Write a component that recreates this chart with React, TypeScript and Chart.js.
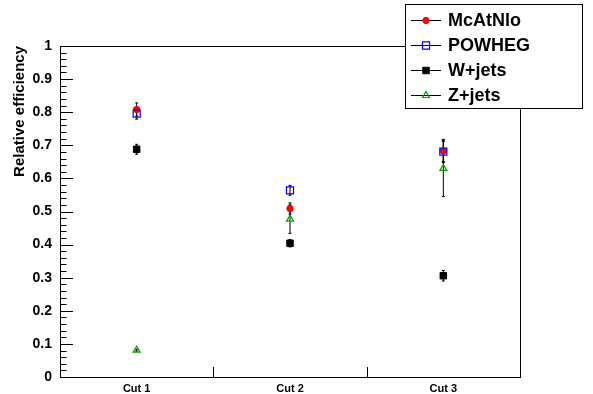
import React, { useEffect, useRef } from 'react';
import { Chart, registerables } from 'chart.js';

Chart.register(...registerables);

// ---- data ----
const categories = ['Cut 1', 'Cut 2', 'Cut 3'];
const seriesNames = ['McAtNlo', 'POWHEG', 'W+jets', 'Z+jets'];
const mcatnlo = [0.808, 0.509, 0.683];
const mcatnloErr = [0.02, 0.017, 0.035];
const powheg = [0.796, 0.564, 0.681];
const powhegErr = [0.017, 0.015, 0.03];
const wjets = [0.688, 0.404, 0.306];
const wjetsErr = [0.015, 0.011, 0.016];
const zjets = [0.081, 0.477, 0.63];
const zjetsErr = [0.003, 0.043, 0.085];
const yTicks = [0, 0.1, 0.2, 0.3, 0.4, 0.5, 0.6, 0.7, 0.8, 0.9, 1];
const yAxisTitle = 'Relative efficiency';

const FONT = "'Liberation Sans', Arial, Helvetica, sans-serif";
const RED = '#ff0000';
const BLUE = '#0000ff';
const BLACK = '#000000';
const GREEN = '#00a000';

const valueSets = [mcatnlo, powheg, wjets, zjets];
const errorSets = [mcatnloErr, powhegErr, wjetsErr, zjetsErr];

type MarkerSpec = { style: string; radius: number; fill: string; stroke: string; width: number };
const markers: MarkerSpec[] = [
  { style: 'circle', radius: 3.2, fill: RED, stroke: RED, width: 1 },
  { style: 'rect', radius: 5, fill: 'rgba(0,0,0,0)', stroke: BLUE, width: 1.2 },
  { style: 'rect', radius: 4.6, fill: BLACK, stroke: BLACK, width: 1 },
  { style: 'triangle', radius: 4, fill: 'rgba(0,0,0,0)', stroke: GREEN, width: 1.2 },
];

function drawMarker(ctx: CanvasRenderingContext2D, m: MarkerSpec, x: number, y: number) {
  ctx.save();
  ctx.beginPath();
  if (m.style === 'circle') {
    ctx.arc(x, y, m.radius, 0, Math.PI * 2);
  } else if (m.style === 'rect') {
    const s = Math.SQRT1_2 * m.radius;
    ctx.rect(x - s, y - s, 2 * s, 2 * s);
  } else {
    const r = m.radius;
    ctx.moveTo(x, y - r);
    ctx.lineTo(x + r * Math.cos(Math.PI / 6), y + r * 0.5);
    ctx.lineTo(x - r * Math.cos(Math.PI / 6), y + r * 0.5);
    ctx.closePath();
  }
  ctx.fillStyle = m.fill;
  ctx.fill();
  ctx.strokeStyle = m.stroke;
  ctx.lineWidth = m.width;
  ctx.stroke();
  ctx.restore();
}

const rootPlugin = {
  id: 'rootStyle',
  beforeDatasetsDraw(chart: any) {
    const ctx: CanvasRenderingContext2D = chart.ctx;
    const xs = chart.scales.x;
    const ys = chart.scales.y;
    ctx.save();
    ctx.strokeStyle = '#000';
    ctx.lineWidth = 1;
    errorSets.forEach((errs, di) => {
      const vals = valueSets[di];
      vals.forEach((v, i) => {
        const px = xs.getPixelForValue(i);
        const y1 = ys.getPixelForValue(v - errs[i]);
        const y2 = ys.getPixelForValue(v + errs[i]);
        ctx.beginPath();
        ctx.moveTo(px, y1);
        ctx.lineTo(px, y2);
        ctx.moveTo(px - 1.5, y1);
        ctx.lineTo(px + 1.5, y1);
        ctx.moveTo(px - 1.5, y2);
        ctx.lineTo(px + 1.5, y2);
        ctx.stroke();
      });
    });
    ctx.restore();
  },
  afterDraw(chart: any) {
    const ctx: CanvasRenderingContext2D = chart.ctx;
    const a = chart.chartArea;
    const xs = chart.scales.x;
    const ys = chart.scales.y;
    ctx.save();
    ctx.strokeStyle = '#000';
    ctx.lineWidth = 1;
    // frame
    ctx.strokeRect(Math.round(a.left) + 0.5, Math.round(a.top) + 0.5, Math.round(a.right - a.left), Math.round(a.bottom - a.top));
    // y ticks (major + minor), pointing inward
    ctx.beginPath();
    for (let k = 0; k < yTicks.length; k++) {
      const py = Math.round(ys.getPixelForValue(yTicks[k])) + 0.5;
      ctx.moveTo(a.left, py);
      ctx.lineTo(a.left + 13, py);
      if (k < yTicks.length - 1) {
        for (let j = 1; j < 5; j++) {
          const v = yTicks[k] + ((yTicks[k + 1] - yTicks[k]) * j) / 5;
          const pm = Math.round(ys.getPixelForValue(v)) + 0.5;
          ctx.moveTo(a.left, pm);
          ctx.lineTo(a.left + 6.5, pm);
        }
      }
    }
    // x ticks at bin boundaries
    for (let i = 0; i < categories.length - 1; i++) {
      const pb = Math.round((xs.getPixelForValue(i) + xs.getPixelForValue(i + 1)) / 2) + 0.5;
      ctx.moveTo(pb, a.bottom);
      ctx.lineTo(pb, a.bottom - 10);
    }
    ctx.stroke();

    // legend
    const lx = 405, ly = 4, lw = 177, lh = 104;
    ctx.fillStyle = '#fff';
    ctx.fillRect(lx, ly, lw, lh);
    ctx.strokeRect(lx + 0.5, ly + 0.5, lw, lh);
    ctx.font = `bold 18px ${FONT}`;
    ctx.textBaseline = 'middle';
    ctx.textAlign = 'left';
    seriesNames.forEach((name, i) => {
      const cy = 20 + i * 25;
      ctx.strokeStyle = '#000';
      ctx.lineWidth = 1;
      ctx.beginPath();
      ctx.moveTo(411, cy + 0.5);
      ctx.lineTo(441, cy + 0.5);
      ctx.stroke();
      drawMarker(ctx, markers[i], 426, cy + 0.5);
      ctx.fillStyle = '#000';
      ctx.fillText(name, 448, cy + 1);
    });
    ctx.restore();
  },
};

export default function App() {
  const canvasRef = useRef<HTMLCanvasElement | null>(null);

  useEffect(() => {
    document.body.style.margin = '0';
    const canvas = canvasRef.current;
    if (!canvas) return;
    const datasets = seriesNames.map((name, i) => ({
      label: name,
      data: valueSets[i],
      showLine: false,
      pointStyle: markers[i].style,
      pointRadius: markers[i].radius,
      pointBackgroundColor: markers[i].fill,
      pointBorderColor: markers[i].stroke,
      pointBorderWidth: markers[i].width,
      backgroundColor: markers[i].fill,
      borderColor: markers[i].stroke,
      order: seriesNames.length - i,
    }));
    const chart = new Chart(canvas, {
      type: 'line',
      data: { labels: categories, datasets },
      options: {
        responsive: false,
        animation: false,
        devicePixelRatio: 1,
        layout: { padding: { top: 46, right: 73, left: 0, bottom: 0 } },
        plugins: { legend: { display: false }, tooltip: { enabled: false } },
        scales: {
          x: {
            type: 'category',
            offset: true,
            grid: { display: false, drawTicks: false },
            border: { display: false },
            ticks: {
              color: '#000',
              font: { family: FONT, size: 11, weight: 'bold' },
              padding: 5,
              maxRotation: 0,
              autoSkip: false,
            },
            afterFit(s: any) {
              s.height = 17;
            },
          },
          y: {
            type: 'linear',
            min: 0,
            max: 1,
            afterBuildTicks(s: any) {
              s.ticks = yTicks.map((v) => ({ value: v }));
            },
            grid: { display: false, drawTicks: false },
            border: { display: false },
            ticks: {
              color: '#000',
              font: { family: FONT, size: 14, weight: 'bold' },
              padding: 8,
              callback: (v: any) => String(v),
            },
            title: {
              display: true,
              text: yAxisTitle,
              align: 'end',
              color: '#000',
              font: { family: FONT, size: 15, weight: 'bold' },
              padding: { top: 11, bottom: 0 },
            },
            afterFit(s: any) {
              s.width = 60;
            },
          },
        },
      },
      plugins: [rootPlugin],
    } as any);
    return () => chart.destroy();
  }, []);

  return (
    <div style={{ position: 'absolute', left: 0, top: 0, width: 593, height: 394, background: '#fff' }}>
      <canvas ref={canvasRef} width={593} height={394} style={{ width: 593, height: 394, display: 'block' }} />
    </div>
  );
}
